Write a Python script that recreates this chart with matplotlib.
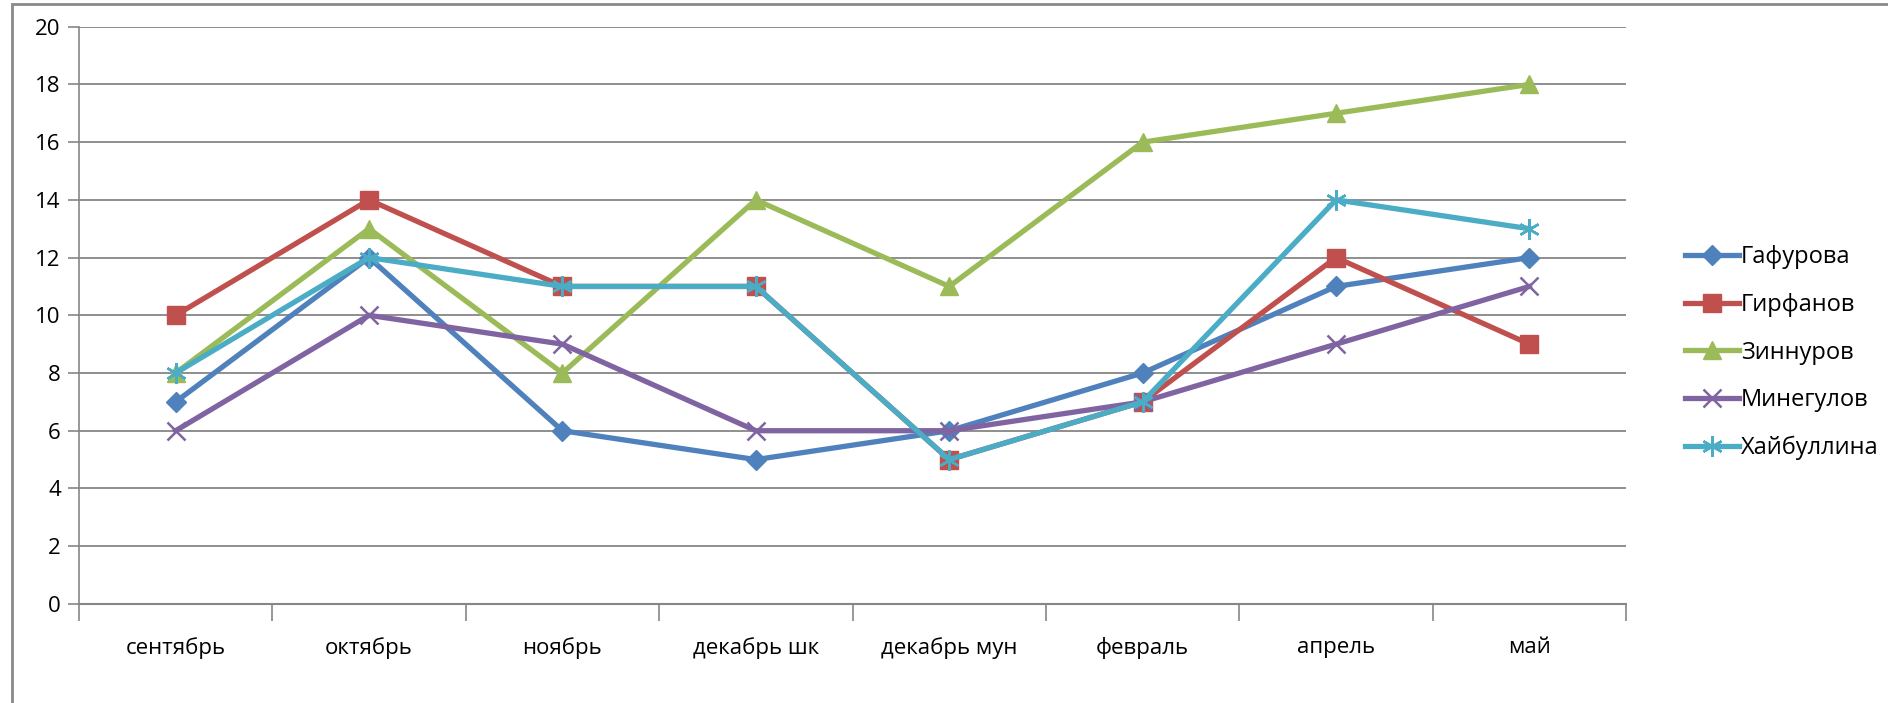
import matplotlib
matplotlib.use("Agg")
import matplotlib.pyplot as plt
from matplotlib.patches import Rectangle
import numpy as np

plt.rcParams['font.family'] = ['Open Sans', 'DejaVu Sans']

# данные
months = ["сентябрь", "октябрь", "ноябрь", "декабрь шк", "декабрь мун", "февраль", "апрель", "май"]
gafurova = [7, 12, 6, 5, 6, 8, 11, 12]
girfanov = [10, 14, 11, 11, 5, 7, 12, 9]
zinnurov = [8, 13, 8, 14, 11, 16, 17, 18]
minegulov = [6, 10, 9, 6, 6, 7, 9, 11]
khaibullina = [8, 12, 11, 11, 5, 7, 14, 13]

names = ["Гафурова", "Гирфанов", "Зиннуров", "Минегулов", "Хайбуллина"]
colors = ["#4F81BD", "#C0504D", "#9BBB59", "#8064A2", "#4BACC6"]
markers = ["D", "s", "^", "x", (6, 2, 0)]
msizes = [10, 13, 13, 13, 15]

fig = plt.figure(figsize=(18.88, 7.03), dpi=100)
ax = fig.add_axes([0.0418, 0.141, 0.8195, 0.821])

x = np.arange(len(months))
series = [gafurova, girfanov, zinnurov, minegulov, khaibullina]
for vals, name, c, m, ms in zip(series, names, colors, markers, msizes):
    ax.plot(x, vals, color=c, lw=3.8, marker=m, markersize=ms,
            markeredgewidth=1.8 if m in ("x", (6, 2, 0)) else 1,
            markeredgecolor=c, markerfacecolor=c, label=name, zorder=3)

ax.set_xlim(-0.5, len(months) - 0.5)
ax.set_ylim(0, 20)
ax.set_yticks(range(0, 21, 2))
ax.set_xticks(x)
ax.set_xticklabels(months, fontsize=16)
ax.set_xticks(np.arange(-0.5, len(months)), minor=True)
ax.tick_params(axis='x', which='major', length=0, pad=24)
ax.tick_params(axis='x', which='minor', length=12, color='#868686', width=1.2, direction='out')
ax.tick_params(axis='y', length=8, color='#868686', width=1.2, labelsize=16, pad=5)

ax.grid(axis='y', color='#868686', lw=1.3, zorder=0)
for s in ['top', 'right']:
    ax.spines[s].set_visible(False)
ax.spines['left'].set_color('#868686')
ax.spines['bottom'].set_color('#868686')
ax.spines['left'].set_linewidth(1.2)
ax.spines['bottom'].set_linewidth(1.5)

leg = ax.legend(loc='center left', bbox_to_anchor=(1.024, 0.435), frameon=False,
                fontsize=17, handlelength=2.3, labelspacing=1.0, handletextpad=0.1)

# рамка диаграммы
fig.patches.append(Rectangle((12 / 1888, -0.05), 1.2, 1.0 - 4 / 703 + 0.05,
                             transform=fig.transFigure, fill=False,
                             edgecolor='#898989', lw=2))

fig.savefig("out.png", dpi=100)
